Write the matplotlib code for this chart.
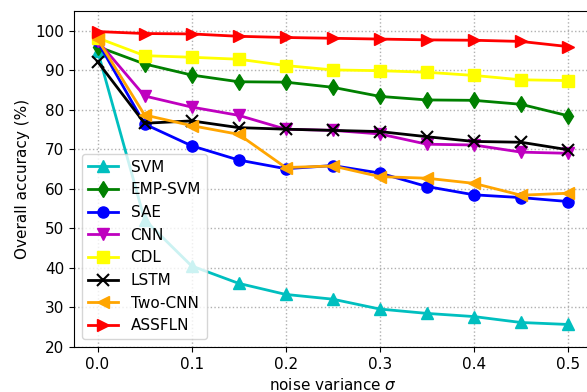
import matplotlib
matplotlib.use("Agg")
import matplotlib.pyplot as plt

sigma = [0.0, 0.05, 0.1, 0.15, 0.2, 0.25, 0.3, 0.35, 0.4, 0.45, 0.5]

svm = [95.0, 52.2, 40.5, 36.1, 33.3, 32.1, 29.6, 28.5, 27.7, 26.2, 25.7]
emp_svm = [96.0, 91.6, 88.8, 87.1, 87.0, 85.7, 83.4, 82.5, 82.4, 81.4, 78.5]
sae = [97.3, 76.4, 70.9, 67.3, 65.1, 65.9, 64.0, 60.6, 58.5, 57.8, 56.8]
cnn = [97.5, 83.5, 80.7, 78.6, 75.1, 74.8, 73.9, 71.3, 71.1, 69.3, 69.0]
cdl = [98.2, 93.7, 93.3, 92.8, 91.2, 90.1, 89.9, 89.5, 88.7, 87.6, 87.4]
lstm = [92.2, 76.6, 77.2, 75.5, 75.1, 74.8, 74.5, 73.2, 72.0, 71.8, 69.9]
two_cnn = [97.9, 78.7, 76.0, 73.8, 65.4, 65.8, 63.1, 62.7, 61.4, 58.4, 58.9]
assfln = [99.8, 99.3, 99.2, 98.6, 98.3, 98.1, 97.9, 97.7, 97.6, 97.3, 96.0]

fig = plt.figure(figsize=(5.87, 3.92), dpi=100)
ax = fig.add_axes([74 / 587, 45 / 392, 517.5 / 587, 336 / 392])

ax.plot(sigma, svm, color="c", marker="^", markersize=8, linewidth=2, label="SVM")
ax.plot(sigma, emp_svm, color="g", marker="d", markersize=8, linewidth=2, label="EMP-SVM")
ax.plot(sigma, sae, color="b", marker="o", markersize=8, linewidth=2, label="SAE")
ax.plot(sigma, cnn, color="m", marker="v", markersize=8, linewidth=2, label="CNN")
ax.plot(sigma, cdl, color="yellow", marker="s", markersize=8, linewidth=2, label="CDL")
ax.plot(sigma, lstm, color="k", marker="x", markersize=8, markeredgewidth=1.5, linewidth=2, label="LSTM")
ax.plot(sigma, two_cnn, color="orange", marker="<", markersize=8, linewidth=2, label="Two-CNN")
ax.plot(sigma, assfln, color="r", marker=">", markersize=8, linewidth=2, label="ASSFLN")

ax.set_xlim(-0.025, 0.525)
ax.set_ylim(20, 105)
ax.set_xticks([0.0, 0.1, 0.2, 0.3, 0.4, 0.5])
ax.set_yticks([20, 30, 40, 50, 60, 70, 80, 90, 100])
ax.tick_params(labelsize=11)
ax.grid(True, linestyle=":", color="#b0b0b0", linewidth=1)
ax.set_xlabel(r"noise variance $\sigma$", fontsize=11)
ax.set_ylabel("Overall accuracy (%)", fontsize=11)
ax.legend(loc="lower left", fontsize=11, framealpha=0.8)

fig.savefig("out.png", dpi=100)
